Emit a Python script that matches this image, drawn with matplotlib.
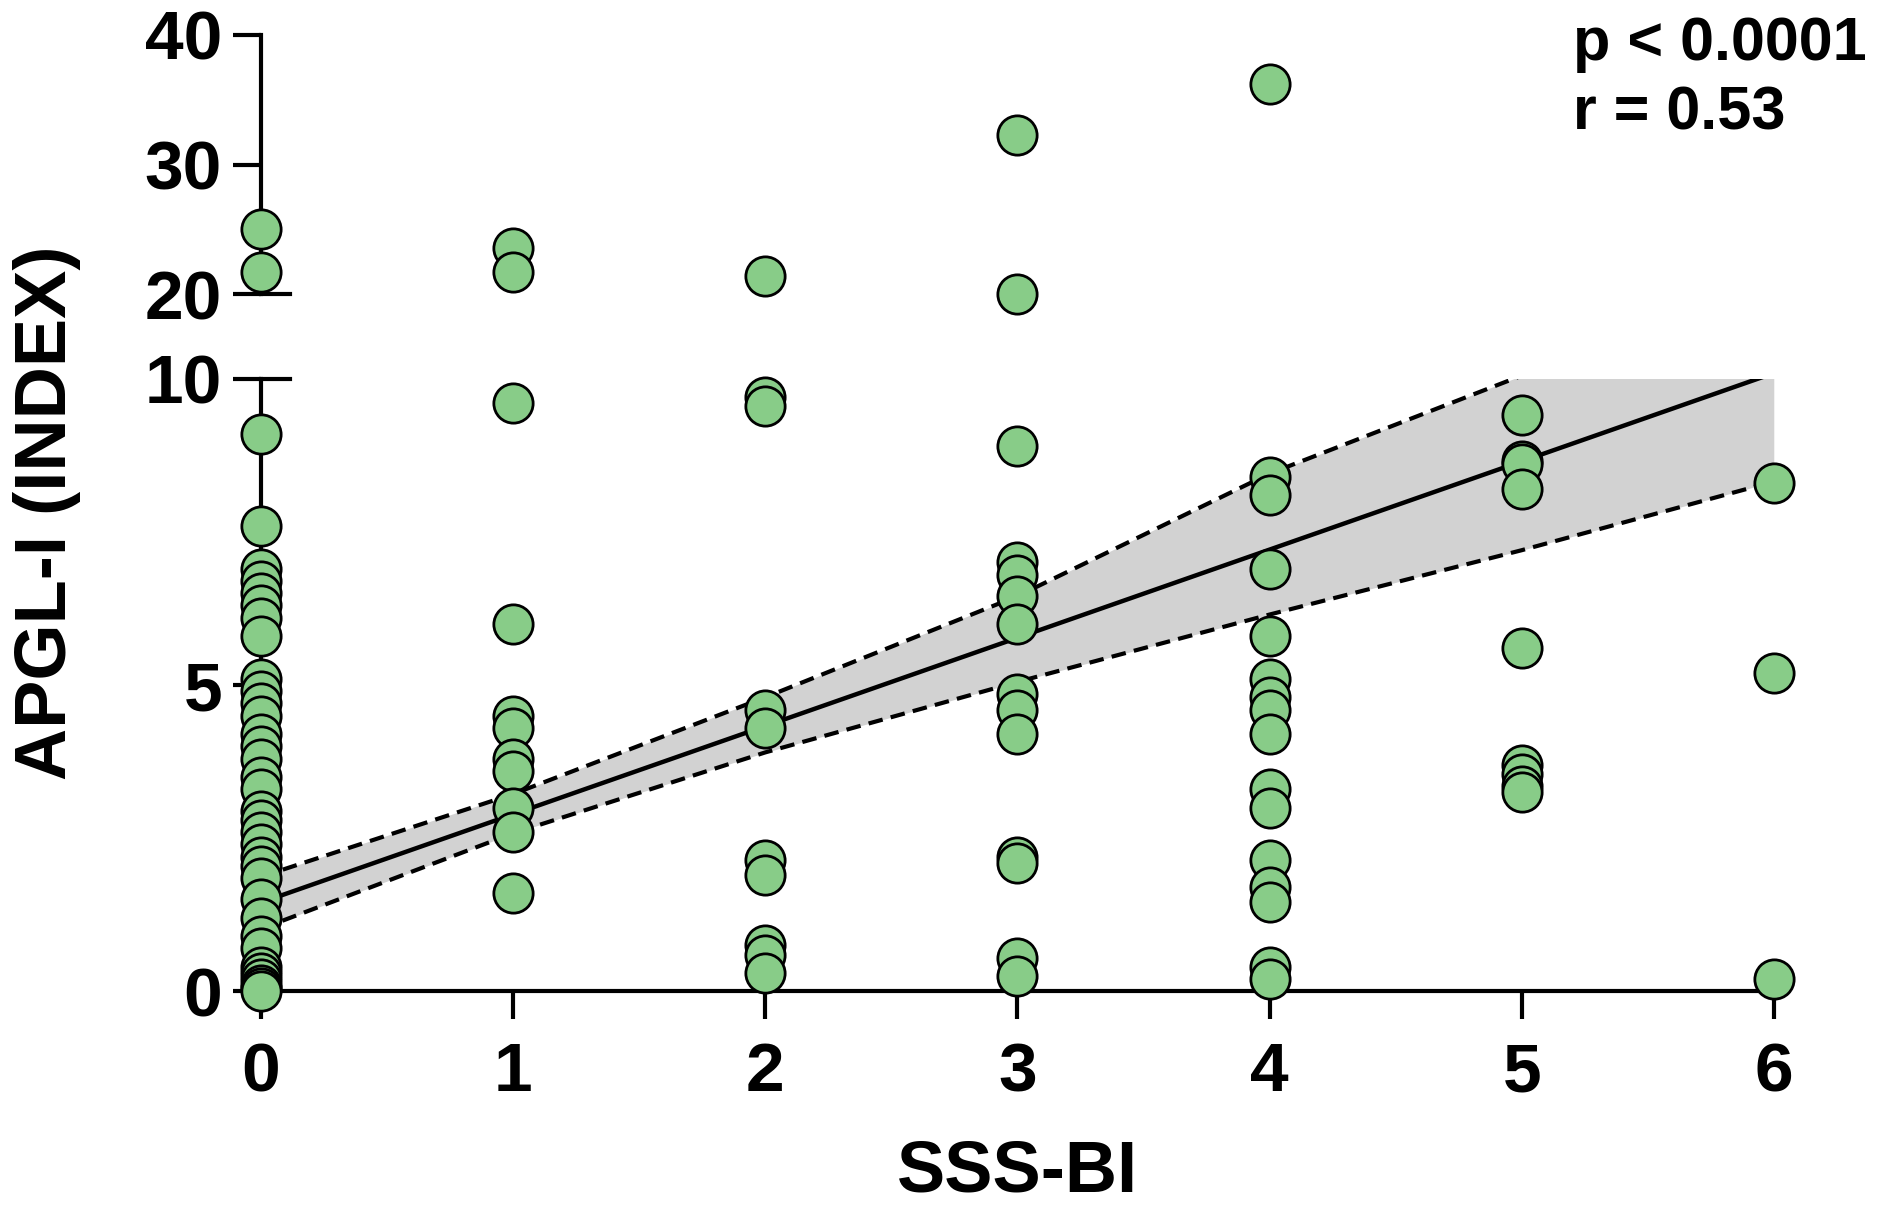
import numpy as np
import matplotlib
matplotlib.use("Agg")
import matplotlib.pyplot as plt

plt.rcParams['font.family'] = ['Liberation Sans', 'DejaVu Sans']
plt.rcParams['font.weight'] = 'bold'

# SSS-BI score -> APGL-I index values
sss_levels = [0, 1, 2, 3, 4, 5, 6]
apgl_0 = [25.0, 21.7, 9.1, 7.6, 6.9, 6.7, 6.5, 6.3, 6.1, 5.8, 5.1, 4.9, 4.7, 4.5,
          4.2, 4.0, 3.8, 3.5, 3.3, 2.95, 2.8, 2.6, 2.4, 2.2, 2.05, 1.85, 1.5, 1.2,
          0.9, 0.7, 0.4, 0.3, 0.2, 0.1, 0.05, 0.0]
apgl_1 = [23.6, 21.7, 9.6, 6.0, 4.5, 4.3, 3.8, 3.6, 3.0, 2.6, 1.6]
apgl_2 = [21.4, 9.7, 9.55, 4.6, 4.3, 2.15, 1.9, 0.75, 0.6, 0.3]
apgl_3 = [32.3, 20.0, 8.9, 7.0, 6.8, 6.45, 6.0, 4.85, 4.6, 4.2, 2.2, 2.1, 0.55, 0.25]
apgl_4 = [36.2, 8.4, 8.1, 6.9, 5.8, 5.1, 4.8, 4.6, 4.2, 3.3, 3.0, 2.15, 1.7, 1.45, 0.4, 0.2]
apgl_5 = [9.4, 8.65, 8.6, 8.2, 5.6, 3.7, 3.55, 3.35, 3.25]
apgl_6 = [8.3, 5.2, 0.2]
apgl_groups = [apgl_0, apgl_1, apgl_2, apgl_3, apgl_4, apgl_5, apgl_6]

# regression line and 95% band, read at each SSS-BI level
fit_x = [0, 6]
fit_y = [1.45, 10.09]
ci_x = [0, 1, 2, 3, 4, 5, 6]
ci_upper = [1.87, 3.22, 4.80, 6.45, 8.45, 10.05, 11.8]
ci_lower = [1.02, 2.58, 3.90, 5.05, 6.15, 7.20, 8.32]

p_text = "p < 0.0001"
r_text = "r = 0.53"

xs = np.concatenate([[lvl] * len(g) for lvl, g in zip(sss_levels, apgl_groups)])
ys = np.concatenate(apgl_groups)
low = ys <= 10
high = ys > 10

green = '#88cc88'
lw = 3.0

fig = plt.figure(figsize=(18.78, 12.06), dpi=100)
ax_lo = fig.add_axes([0.139, 0.178, 0.8055, 0.508])
ax_hi = fig.add_axes([0.139, 0.756, 0.8055, 0.215])

# band + fit
ax_lo.fill_between(ci_x, ci_lower, ci_upper, color='#d2d2d2', lw=0, zorder=1)
ax_lo.plot(ci_x, ci_upper, color='black', lw=3.0, dashes=(3.5, 2), zorder=2)
ax_lo.plot(ci_x, ci_lower, color='black', lw=3.0, dashes=(3.5, 2), zorder=2)
ax_lo.plot(fit_x, fit_y, color='black', lw=3.2, zorder=2)

ax_lo.scatter(xs[low], ys[low], s=800, c=green, edgecolors='black',
              linewidths=2.0, zorder=5, clip_on=False)
ax_hi.scatter(xs[high], ys[high], s=800, c=green, edgecolors='black',
              linewidths=2.0, zorder=5, clip_on=False)

for ax in (ax_lo, ax_hi):
    ax.set_xlim(0, 6)
    ax.spines['top'].set_visible(False)
    ax.spines['right'].set_visible(False)
    ax.spines['left'].set_linewidth(lw)
    ax.spines['bottom'].set_linewidth(lw)
    ax.tick_params(direction='out', length=20, width=lw, labelsize=50)
    ax.patch.set_visible(False)

ax_lo.set_ylim(0, 10)
ax_lo.set_yticks([0, 5, 10])
ax_lo.set_xticks(sss_levels)
ax_lo.tick_params(axis='x', pad=16)
ax_lo.tick_params(axis='y', pad=8)

ax_hi.set_ylim(20, 40)
ax_hi.set_yticks([20, 30, 40])
ax_hi.spines['bottom'].set_visible(False)
ax_hi.set_xticks([])
ax_hi.tick_params(axis='y', pad=8)

# axis-break marks: ticks at 10 and 20 continue to the right of the axis
for ax, yv in ((ax_lo, 10), (ax_hi, 20)):
    ax.plot([0, 0.019], [yv, yv], color='black', lw=lw,
            transform=ax.get_yaxis_transform(), clip_on=False, zorder=3)

fig.text(0.542, 0.028, 'SSS-BI', ha='center', va='center', fontsize=52, fontweight='bold')
fig.text(0.025, 0.575, 'APGL-I (INDEX)', ha='center', va='center', rotation=90,
         fontsize=52, fontweight='bold')
fig.text(0.8375, 0.950, p_text, ha='left', va='baseline', fontsize=44, fontweight='bold')
fig.text(0.8375, 0.893, r_text, ha='left', va='baseline', fontsize=44, fontweight='bold')

fig.savefig('out.png', dpi=100)
